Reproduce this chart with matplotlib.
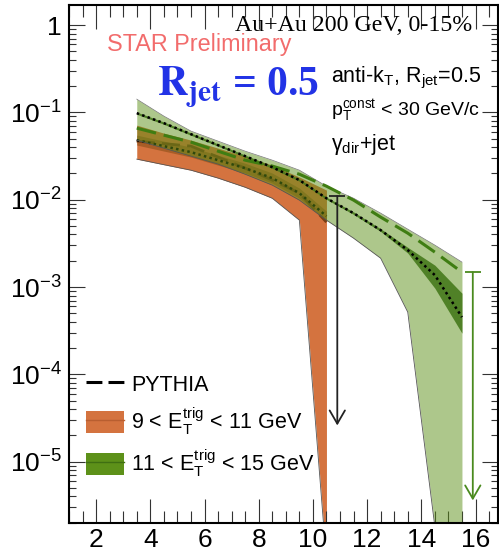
import numpy as np
import matplotlib
matplotlib.use('Agg')
import matplotlib.pyplot as plt
from matplotlib.ticker import MultipleLocator, LogLocator, FixedLocator, FuncFormatter, NullFormatter
from matplotlib.patches import Patch
from matplotlib.lines import Line2D

plt.rcParams['font.family'] = ['Liberation Sans', 'DejaVu Sans']
plt.rcParams['mathtext.fontset'] = 'custom'
plt.rcParams['mathtext.rm'] = 'Liberation Sans'
plt.rcParams['mathtext.it'] = 'Liberation Sans:italic'
plt.rcParams['mathtext.bf'] = 'Liberation Sans:bold'
plt.rcParams['mathtext.sf'] = 'Liberation Sans'

# pT bin centres (GeV/c)
x_low = [3.5, 4.5, 5.5, 6.5, 7.5, 8.5, 9.5, 10.5]
x_high = [3.5, 4.5, 5.5, 6.5, 7.5, 8.5, 9.5, 10.5, 11.5, 12.5, 13.5, 14.5, 15.5]

# 9 < ET < 11 GeV
low_val = [0.0482, 0.0411, 0.0351, 0.0284, 0.0230, 0.0177, 0.0119, 0.00649]
low_stat_hi = [0.0550, 0.0469, 0.0400, 0.0324, 0.0262, 0.0202, 0.0136, 0.0074]
low_stat_lo = [0.0423, 0.0361, 0.0308, 0.0249, 0.0202, 0.0155, 0.0104, 0.0057]
low_sys_hi = [0.0715, 0.0579, 0.0482, 0.0390, 0.0316, 0.0249, 0.0182, 0.0129]
low_sys_lo = [0.0292, 0.0252, 0.0218, 0.0177, 0.0139, 0.0104, 0.00584, 7.4e-7]
low_pythia = [0.0469, 0.0439, 0.0411, 0.0308, 0.0230, 0.0168, 0.0119, 0.00554]

# 11 < ET < 15 GeV
high_val = [0.0982, 0.0754, 0.0564, 0.0422, 0.0316, 0.0236, 0.0168, 0.0104,
            0.00702, 0.00449, 0.00265, 0.00137, 0.000452]
high_stat_hi = [0.101, 0.0777, 0.0581, 0.0435, 0.0325, 0.0243, 0.0173, 0.0107,
                0.00725, 0.00465, 0.00285, 0.00178, 0.00085]
high_stat_lo = [0.0953, 0.0732, 0.0548, 0.0410, 0.0307, 0.0229, 0.0163, 0.0101,
                0.00680, 0.00433, 0.00245, 0.00097, 0.000296]
high_sys_hi = [0.142, 0.0907, 0.0611, 0.0469, 0.0360, 0.0284, 0.0218, 0.0143,
               0.0104, 0.00702, 0.00460, 0.00302, 0.00193]
high_sys_lo = [0.0482, 0.0390, 0.0316, 0.0256, 0.0196, 0.0147, 0.0099, 0.00584,
               0.00363, 0.00214, 0.000516, 1.8e-6, 2.6e-7]
high_pythia = [0.0661, 0.0549, 0.0457, 0.0360, 0.0284, 0.0243, 0.0196, 0.0143,
               0.0099, 0.00632, 0.00414, 0.00251, 0.00148]

# upper limits (arrows)
lim_x = [10.9, 15.9]
lim_top = [0.011, 0.00148]
lim_tip = [2.6e-5, 3.6e-6]
lim_colors = ['#222222', '#4a8a1e']

y_ticks = [1e-5, 1e-4, 1e-3, 1e-2, 1e-1, 1]

orange = '#d4733f'
brown = '#9a561f'
green = '#5d9119'
dkgreen = '#467a1c'

fig = plt.figure(figsize=(4.99, 5.54), dpi=100)
ax = fig.add_axes([69 / 499, 1 - 522.7 / 554, 429 / 499, 517.7 / 554])
ax.set_yscale('log')
ax.set_xlim(1.0, 16.83)
ax.set_ylim(2e-6, 1.7)

# lower trigger bin
ax.fill_between(x_low, low_sys_lo, low_sys_hi, color=orange, lw=0, zorder=1)
ax.plot(x_low, low_sys_lo, color='#555555', lw=0.6, zorder=1.1)
ax.fill_between(x_low, low_stat_lo, low_stat_hi, color=brown, alpha=0.75, lw=0, zorder=1.2)
ax.plot(x_low, low_pythia, color='#7a3e14', lw=2.0, dashes=(6.5, 2.6), zorder=1.3)
ax.plot(x_low, low_val, color='black', lw=1.8, dashes=(1, 1.3), zorder=1.4)

# higher trigger bin, translucent so the overlap shows
ax.fill_between(x_high, high_sys_lo, high_sys_hi, color=green, alpha=0.5, lw=0, zorder=2)
ax.plot(x_high, high_sys_lo, color='#555555', lw=0.6, zorder=2.1)
ax.plot(x_high, high_sys_hi, color='#777777', lw=0.5, zorder=2.1)
ax.fill_between(x_high, high_stat_lo, high_stat_hi, color=dkgreen, alpha=0.9, lw=0, zorder=2.2)
ax.plot(x_high, high_pythia, color='#3f7d12', lw=2.2, dashes=(6.5, 2.6), zorder=2.3)
ax.plot(x_high, high_val, color='black', lw=1.8, dashes=(1, 1.3), zorder=2.4)

for x, top, tip, c in zip(lim_x, lim_top, lim_tip, lim_colors):
    ax.hlines(top, x - 0.3, x + 0.3, color=c, lw=1.3, zorder=3)
    ax.annotate('', xy=(x, tip), xytext=(x, top),
                arrowprops=dict(arrowstyle='->,head_length=0.95,head_width=0.55',
                                color=c, lw=1.3, shrinkA=0, shrinkB=0,
                                mutation_scale=10), zorder=3)

# axes styling
ax.xaxis.set_major_locator(MultipleLocator(2))
ax.xaxis.set_minor_locator(MultipleLocator(0.5))
ax.yaxis.set_major_locator(FixedLocator(y_ticks))
ax.yaxis.set_minor_locator(LogLocator(base=10, subs=np.arange(2, 10), numticks=20))
ax.yaxis.set_minor_formatter(NullFormatter())


def ylab(v, pos):
    e = int(round(np.log10(v)))
    return '1' if e == 0 else r'$10^{%d}$' % e


ax.yaxis.set_major_formatter(FuncFormatter(ylab))
ax.tick_params(which='both', direction='in', top=True, right=True, width=0.8,
               color='#333333', labelsize=19)
ax.tick_params(axis='x', which='major', length=17, pad=4)
ax.tick_params(axis='x', which='minor', length=8.6)
ax.tick_params(axis='y', which='major', length=11.5, pad=5)
ax.tick_params(axis='y', which='minor', length=5)
for s in ax.spines.values():
    s.set_linewidth(1.5)

# annotations
ax.text(0.939, 0.961, 'Au+Au 200 GeV, 0-15%', transform=ax.transAxes,
        ha='right', va='center', fontsize=17.2, family='Liberation Serif')
ax.text(0.0886, 0.923, 'STAR Preliminary', transform=ax.transAxes,
        ha='left', va='center', fontsize=16.8, color='#f26c6c')
ax.text(0.205, 0.826, r'$\mathbf{R_{jet}}$ = 0.5', transform=ax.transAxes,
        ha='left', va='baseline', fontsize=30, color='#2233e6',
        family='Liberation Serif', weight='bold', math_fontfamily='stix')
ax.text(0.611, 0.850, r'anti-k$_{\rm T}$, R$_{\rm jet}$=0.5', transform=ax.transAxes,
        ha='left', va='baseline', fontsize=15.5)
ax.text(0.611, 0.785, r'p$_{\rm T}^{\rm const}$ < 30 GeV/c', transform=ax.transAxes,
        ha='left', va='baseline', fontsize=14)
ax.text(0.611, 0.72, r'γ$_{\rm dir}$+jet', transform=ax.transAxes,
        ha='left', va='baseline', fontsize=15.5)

# legend
h_py = Line2D([], [], color='black', lw=2.2, dashes=(5.2, 2.0))
h_lo = (Patch(facecolor=orange, edgecolor='none'), Line2D([], [], color='#b85e30', lw=1.0))
h_hi = (Patch(facecolor=green, edgecolor='none'), Line2D([], [], color='#3f6f12', lw=1.0))
ax.legend([h_py, h_lo, h_hi],
          ['PYTHIA', r'9 < $\mathrm{E}_{\rm T}^{\rm trig}$ < 11 GeV',
           r'11 < $\mathrm{E}_{\rm T}^{\rm trig}$ < 15 GeV'],
          loc='upper left', bbox_to_anchor=(0.04, 0.29), frameon=False,
          fontsize=15.5, handlelength=1.75, handleheight=1.2, handletextpad=0.35,
          labelspacing=0.45, borderpad=0, borderaxespad=0)

fig.savefig('out.png', dpi=100)
